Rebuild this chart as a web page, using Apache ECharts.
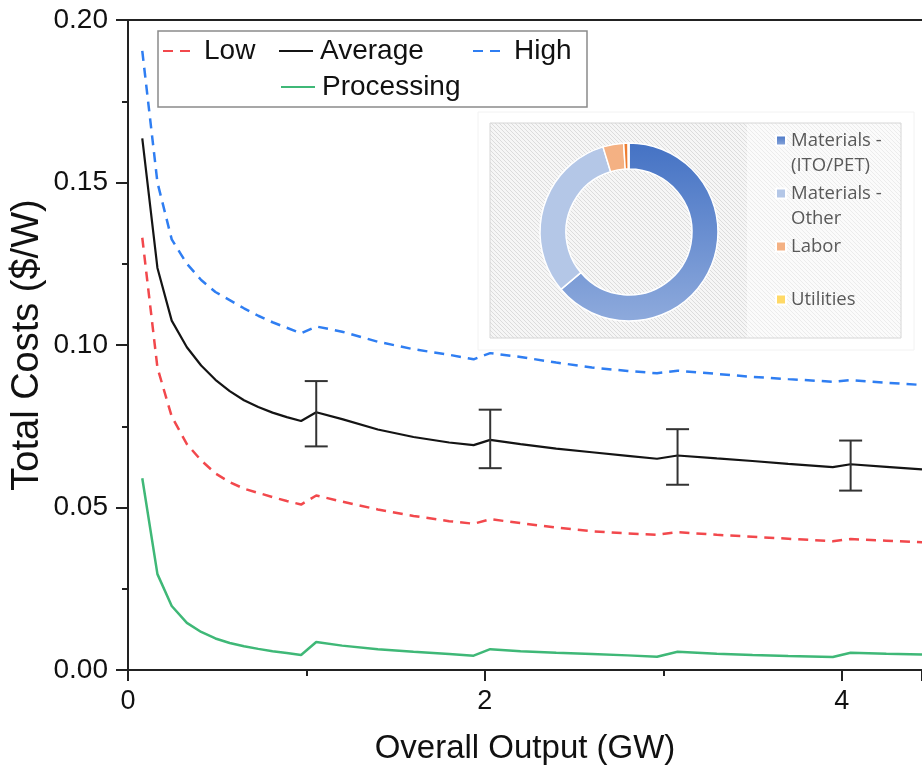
<!DOCTYPE html>
<html><head><meta charset="utf-8">
<script src="https://cdn.jsdelivr.net/npm/echarts@6/dist/echarts.min.js"></script>
<style>html,body{margin:0;padding:0;background:#fff}#c{width:922px;height:774px}</style>
</head><body><div id="c"></div>
<script>
// ---- data ----
const xValues = [0.08, 0.165, 0.245, 0.33, 0.41, 0.49, 0.57, 0.65, 0.73, 0.81, 0.89, 0.97,
  1.055, 1.2, 1.4, 1.6, 1.8, 1.937,
  2.03, 2.2, 2.4, 2.6, 2.8, 2.965,
  3.08, 3.3, 3.5, 3.7, 3.95,
  4.05, 4.25, 4.45];
const average = [0.1636, 0.1237, 0.1075, 0.0993, 0.0937, 0.0893, 0.0858, 0.0830, 0.0809, 0.0792, 0.0778, 0.0766,
  0.0793, 0.0772, 0.0740, 0.0717, 0.0700, 0.0692,
  0.0708, 0.0695, 0.0681, 0.0670, 0.0659, 0.0650,
  0.0660, 0.0651, 0.0643, 0.0634, 0.0624,
  0.0633, 0.0625, 0.0617];
const high = [0.1905, 0.150, 0.1325, 0.125, 0.120, 0.1163, 0.1138, 0.1113, 0.109, 0.1070, 0.1053, 0.1036,
  0.1057, 0.1041, 0.1010, 0.0987, 0.0970, 0.0956,
  0.0975, 0.0963, 0.0946, 0.0931, 0.0920, 0.0913,
  0.0921, 0.0911, 0.0902, 0.0895, 0.0887,
  0.0892, 0.0884, 0.0877];
const low = [0.133, 0.093, 0.078, 0.0695, 0.0645, 0.0605, 0.0578, 0.0558, 0.0545, 0.0532, 0.0520, 0.0509,
  0.0537, 0.0518, 0.0494, 0.0474, 0.0458, 0.0450,
  0.0464, 0.0452, 0.0438, 0.0427, 0.0420, 0.0416,
  0.0424, 0.0416, 0.0410, 0.0404, 0.0396,
  0.0403, 0.0398, 0.0393];
const processing = [0.0590, 0.0295, 0.0197, 0.0145, 0.0117, 0.0097, 0.0083, 0.0073, 0.0065, 0.0058, 0.0052, 0.0046,
  0.0086, 0.0075, 0.0064, 0.0056, 0.0049, 0.0044,
  0.0064, 0.0058, 0.0053, 0.0049, 0.0045, 0.0041,
  0.0056, 0.0050, 0.0046, 0.0043, 0.0040,
  0.0053, 0.0050, 0.0048];
const errorX = [1.055, 2.03, 3.08, 4.05];
const errorLow = [0.0688, 0.0621, 0.0570, 0.0552];
const errorHigh = [0.0889, 0.0801, 0.0741, 0.0706];
const yTicks = [0, 0.05, 0.10, 0.15, 0.20];
const xTicks = [0, 2, 4];
const pieNames = ['Materials - (ITO/PET)', 'Materials - Other', 'Labor', 'Other costs', 'Utilities'];
const pieValues = [63.6, 31.3, 3.75, 0.8, 0.15];
const pieLegendText = {
  'Materials - (ITO/PET)': '\nMaterials -\n(ITO/PET)',
  'Materials - Other': '\nMaterials -\nOther',
  'Labor': '\nLabor\n',
  'Utilities': '\nUtilities\n'
};

// ---- helpers ----
function hatch(bg, fg) {
  const c = document.createElement('canvas');
  c.width = 4; c.height = 4;
  const g = c.getContext('2d');
  g.fillStyle = bg; g.fillRect(0, 0, 4, 4);
  g.strokeStyle = fg; g.lineWidth = 1;
  g.beginPath();
  g.moveTo(0, 0); g.lineTo(4, 4);
  g.moveTo(-1, 3); g.lineTo(1, 5);
  g.moveTo(3, -1); g.lineTo(5, 1);
  g.stroke();
  return c;
}
const pts = arr => xValues.map((x, i) => [x, arr[i]]);
const FONT = 'Liberation Sans';
const C_LOW = '#f2484c', C_AVG = '#141414', C_HIGH = '#2f7ef2', C_PROC = '#3fb877';

const chart = echarts.init(document.getElementById('c'), null, {renderer: 'canvas'});

const lineLegend = (name, left, top) => ({
  data: [name], left: left, top: top, padding: 0, itemWidth: 34, itemHeight: 14,
  selectedMode: false,
  itemStyle: {opacity: 0, borderWidth: 0},
  textStyle: {fontFamily: FONT, fontSize: 28, color: '#111', padding: [0, 0, 0, 2]}
});

const option = {
  animation: false,
  backgroundColor: '#fff',
  grid: {left: 128, right: 0, top: 20, bottom: 104, containLabel: false, outerBoundsMode: 'none'},
  xAxis: [{
    type: 'value', min: 0, max: 4.45, interval: 2,
    name: 'Overall Output (GW)', nameLocation: 'middle', nameGap: 62, nameMoveOverlap: false,
    nameTextStyle: {fontFamily: FONT, fontSize: 33, color: '#111'},
    axisLine: {show: true, onZero: false, lineStyle: {color: '#222', width: 2}},
    axisTick: {show: true, length: 11, lineStyle: {color: '#222', width: 2}},
    minorTick: {show: true, splitNumber: 2, length: 6, lineStyle: {color: '#222', width: 2}},
    splitLine: {show: false},
    axisLabel: {fontFamily: FONT, fontSize: 27, color: '#111', margin: 18,
      formatter: v => xTicks.indexOf(v) >= 0 ? String(v) : '', showMaxLabel: false}
  }, {
    type: 'value', min: 0, max: 4.45, position: 'top',
    axisLine: {show: true, onZero: false, lineStyle: {color: '#222', width: 2}},
    axisTick: {show: false}, axisLabel: {show: false}, splitLine: {show: false}
  }],
  yAxis: {
    type: 'value', min: 0, max: 0.2, interval: 0.05,
    name: 'Total Costs ($/W)', nameLocation: 'middle', nameGap: 81, nameMoveOverlap: false,
    nameTextStyle: {fontFamily: FONT, fontSize: 38, color: '#111'},
    axisLine: {show: true, onZero: false, lineStyle: {color: '#222', width: 2}},
    axisTick: {show: true, length: 12, lineStyle: {color: '#222', width: 2}},
    minorTick: {show: true, splitNumber: 2, length: 6, lineStyle: {color: '#222', width: 2}},
    splitLine: {show: false},
    axisLabel: {fontFamily: FONT, fontSize: 28, color: '#111', margin: 20,
      formatter: v => {
        const t = yTicks.find(k => Math.abs(k - v) < 1e-9);
        return t === undefined ? '' : t.toFixed(2);
      }}
  },
  legend: [
    lineLegend('Low', 162, 37),
    lineLegend('Average', 278, 37),
    lineLegend('High', 472, 37),
    lineLegend('Processing', 280, 73),
    {
      data: ['Materials - (ITO/PET)', 'Materials - Other', 'Labor', 'Utilities'],
      orient: 'vertical', left: 775, top: 103, padding: 0, itemGap: -22,
      itemWidth: 10, itemHeight: 10, icon: 'rect', selectedMode: false,
      formatter: n => pieLegendText[n] || n,
      textStyle: {fontFamily: 'Open Sans', fontSize: 18.5, color: '#595959', lineHeight: 25}
    }
  ],
  graphic: [
    {type: 'rect', z: 1, shape: {x: 158, y: 31, width: 429, height: 76},
      style: {fill: '#fff', stroke: '#8a8a8a', lineWidth: 1.5}},
    {type: 'rect', z: 1, shape: {x: 478, y: 112, width: 436, height: 238},
      style: {fill: '#fff', stroke: '#f2f2f2', lineWidth: 1}},
    {type: 'rect', z: 1, shape: {x: 490, y: 123, width: 257, height: 215},
      style: {fill: {image: hatch('#f6f6f6', '#dcdcdc'), repeat: 'repeat'}}},
    {type: 'rect', z: 1, shape: {x: 747, y: 123, width: 154, height: 215},
      style: {fill: {image: hatch('#fbfbfb', '#ececec'), repeat: 'repeat'}}},
    {type: 'rect', z: 1, shape: {x: 490, y: 123, width: 411, height: 215},
      style: {fill: 'none', stroke: '#d6d6d6', lineWidth: 1}}
  ],
  series: [
    {name: 'Low', type: 'line', data: pts(low), symbol: 'none', z: 3,
      lineStyle: {color: C_LOW, width: 2.5, type: [10, 7]}, itemStyle: {color: C_LOW}},
    {name: 'Average', type: 'line', data: pts(average), symbol: 'none', z: 3,
      lineStyle: {color: C_AVG, width: 2.2}, itemStyle: {color: C_AVG}},
    {name: 'High', type: 'line', data: pts(high), symbol: 'none', z: 3,
      lineStyle: {color: C_HIGH, width: 2.5, type: [10, 7]}, itemStyle: {color: C_HIGH}},
    {name: 'Processing', type: 'line', data: pts(processing), symbol: 'none', z: 3,
      lineStyle: {color: C_PROC, width: 2.5}, itemStyle: {color: C_PROC}},
    {name: 'Error', type: 'custom', z: 4,
      data: errorX.map((x, i) => [x, errorLow[i], errorHigh[i]]),
      encode: {x: 0, y: [1, 2]},
      renderItem: function (params, api) {
        const x = api.value(0);
        const a = api.coord([x, api.value(1)]);
        const b = api.coord([x, api.value(2)]);
        const hw = 11.5;
        const st = {stroke: '#333', lineWidth: 2};
        return {type: 'group', children: [
          {type: 'line', shape: {x1: a[0], y1: a[1], x2: b[0], y2: b[1]}, style: st},
          {type: 'line', shape: {x1: a[0] - hw, y1: a[1], x2: a[0] + hw, y2: a[1]}, style: st},
          {type: 'line', shape: {x1: b[0] - hw, y1: b[1], x2: b[0] + hw, y2: b[1]}, style: st}
        ]};
      }
    },
    {name: 'Cost share', type: 'pie', z: 5, center: [629, 232], radius: [63, 89],
      startAngle: 90, clockwise: true, label: {show: false}, labelLine: {show: false},
      silent: true, emphasis: {disabled: true},
      itemStyle: {borderColor: '#fff', borderWidth: 1.5},
      data: pieNames.map((n, i) => {
        const colors = [
          new echarts.graphic.LinearGradient(0, 0, 0, 1, [{offset: 0, color: '#4472c4'}, {offset: 1, color: '#8eaadc'}]),
          '#b4c7e7', '#f4b183', '#ed7d31', '#ffd966'];
        return {name: n, value: pieValues[i], itemStyle: {color: colors[i]}};
      })
    }
  ]
};
chart.setOption(option);
</script>
</body></html>
